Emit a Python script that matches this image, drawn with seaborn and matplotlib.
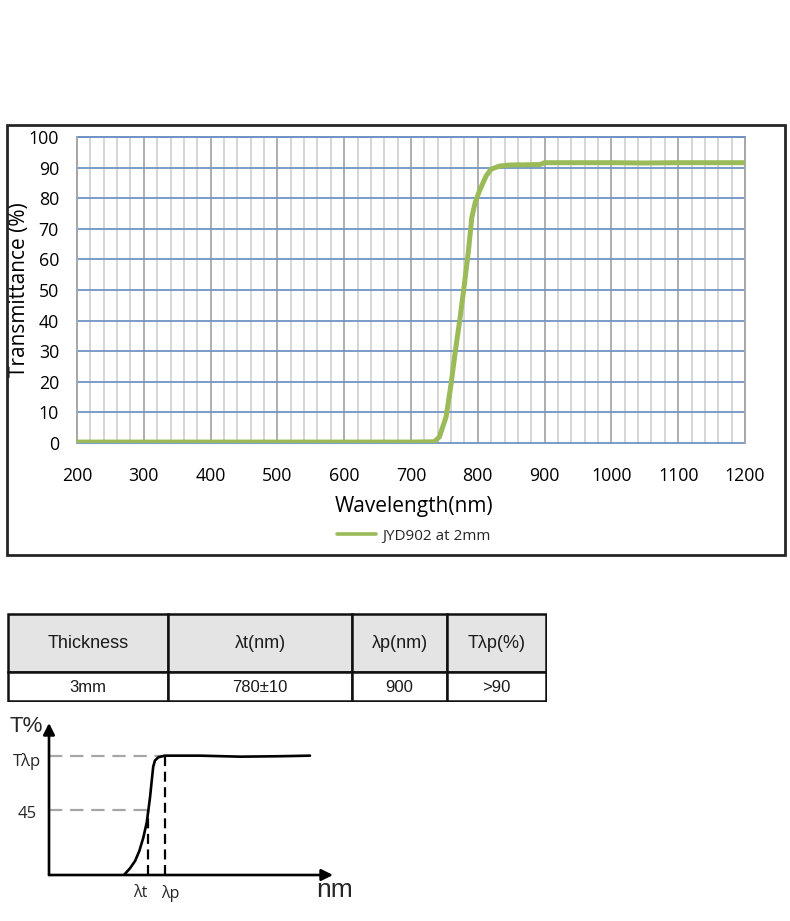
import numpy as np
import pandas as pd
import matplotlib
matplotlib.use("Agg")
import matplotlib.pyplot as plt
from matplotlib.patches import Rectangle
import seaborn as sns

# ---------------- data ----------------
wavelength = [200, 300, 400, 500, 600, 700, 735, 742.5, 752.5, 760, 766.5, 773.5,
              780, 786, 791, 796, 802.5, 812.5, 820, 832.5, 845, 857.5, 870, 887.5,
              893, 900, 922.5, 950, 1000, 1050, 1100, 1150, 1200]
transmittance = [0.3, 0.3, 0.3, 0.3, 0.3, 0.3, 0.4, 2.0, 8.5, 19.3, 30.2, 41.0,
                 52.0, 62.8, 73.7, 78.5, 82.4, 87.3, 89.5, 90.5, 90.8, 90.9, 90.9, 91.0,
                 91.0, 91.6, 91.6, 91.6, 91.6, 91.5, 91.6, 91.6, 91.6]
series_name = "JYD902 at 2mm"
x_ticks = list(range(200, 1201, 100))
y_ticks = list(range(0, 101, 10))

table_headers = ["Thickness", "λt(nm)", "λp(nm)", "Tλp(%)"]
table_values = ["3mm", "780±10", "900", ">90"]

# schematic curve (arbitrary units)
sch_x = [26.4, 28.5, 30.3, 31.8, 33.2, 34.4, 35.0, 35.6, 36.2, 36.7, 37.3, 38.5,
         40.8, 53.2, 67.3, 81.3, 91.9]
sch_t = [0.0, 4.6, 9.7, 16.6, 25.8, 36.2, 45.0, 54.2, 65.8, 75.0, 79.2, 81.5,
         82.6, 82.6, 81.9, 82.2, 82.6]
sch_lam_t = 34.8
sch_lam_p = 40.8
sch_t_lp = 82.6
sch_t_45 = 45.0

# ---------------- figure ----------------
sns.set_theme(style="white")
plt.rcParams["font.family"] = ["Open Sans", "DejaVu Sans"]

W, H = 790, 921
fig = plt.figure(figsize=(W / 100, H / 100), dpi=100)
fig.patch.set_facecolor("white")

def rect(x0, y0, x1, y1):
    return [x0 / W, 1 - y1 / H, (x1 - x0) / W, (y1 - y0) / H]

# outer frame of chart
fig.add_artist(Rectangle((7 / W, 1 - 555 / H), 778 / W, 430 / H,
                         transform=fig.transFigure, fill=False, lw=2.0, ec="#262626"))

# ---------------- main chart ----------------
ax = fig.add_axes(rect(77, 137, 745, 443))
df = pd.DataFrame({"Wavelength": wavelength, "T": transmittance})
sns.lineplot(data=df, x="Wavelength", y="T", ax=ax, color="#9BBB59", lw=3.6,
             label=series_name, zorder=5)
ax.set_xlim(200, 1200)
ax.set_ylim(0, 100)
ax.set_xticks(x_ticks)
ax.set_xticks(list(range(200, 1201, 20)), minor=True)
ax.set_yticks(y_ticks)
ax.grid(False)
ax.xaxis.grid(True, which="minor", color="#d2d2d2", lw=1.3, zorder=0)
ax.xaxis.grid(True, which="major", color="#a8a8a8", lw=1.3, zorder=1)
ax.yaxis.grid(True, which="major", color="#6f94c6", lw=1.3, zorder=0.5)
ax.set_axisbelow(True)
for t in ax.xaxis.get_major_ticks() + ax.xaxis.get_minor_ticks() + ax.yaxis.get_major_ticks():
    t.gridline.set_clip_on(False)
ax.axhline(100, color="#6f94c6", lw=1.3, clip_on=False, zorder=2)
ax.axvline(200, color="#a8a8a8", lw=1.3, clip_on=False, zorder=2)
ax.axvline(1200, color="#a8a8a8", lw=1.3, clip_on=False, zorder=1)
for s in ax.spines.values():
    s.set_visible(False)
ax.tick_params(axis="x", which="both", length=0, pad=17, labelsize=12.8, labelcolor="black")
ax.tick_params(axis="y", which="both", length=0, pad=13, labelsize=12.8, labelcolor="black")
ax.set_xlabel("Wavelength(nm)", fontsize=15, color="black")
ax.set_ylabel("Transmittance (%)", fontsize=15, color="black")
ax.xaxis.set_label_coords(0.504, -0.172)
ax.yaxis.set_label_coords(-0.07, 0.5)
leg = ax.legend(loc="center", bbox_to_anchor=(0.504, -0.304), frameon=False,
                handlelength=2.6, handletextpad=0.4, fontsize=11)
for line in leg.get_lines():
    line.set_linewidth(2.6)

# ---------------- table ----------------
tax = fig.add_axes(rect(7, 613, 547, 702))
tax.set_xlim(7, 547)
tax.set_ylim(702, 613)
tax.axis("off")
col_edges = [8, 168, 352, 447, 546]
row_edges = [614, 672, 701]
for i in range(len(table_headers)):
    x0, x1 = col_edges[i], col_edges[i + 1]
    tax.add_patch(Rectangle((x0, row_edges[0]), x1 - x0, row_edges[1] - row_edges[0],
                            fc="#e4e4e4", ec="#111111", lw=1.8))
    tax.add_patch(Rectangle((x0, row_edges[1]), x1 - x0, row_edges[2] - row_edges[1],
                            fc="white", ec="#111111", lw=1.8))
    cx = (x0 + x1) / 2
    tax.text(cx, (row_edges[0] + row_edges[1]) / 2, table_headers[i], ha="center",
             va="center", fontsize=13, family=["Liberation Sans", "DejaVu Sans"],
             color="#1a1a1a")
    tax.text(cx, (row_edges[1] + row_edges[2]) / 2 + 0.5, table_values[i], ha="center",
             va="center", fontsize=12, family=["Liberation Sans", "DejaVu Sans"],
             color="#1a1a1a")

# ---------------- schematic ----------------
sax = fig.add_axes(rect(49, 723, 333, 875))
sax.set_xlim(0, 100)
sax.set_ylim(0, 105.2)
sax.axis("off")
sns.lineplot(x=sch_x, y=sch_t, ax=sax, color="black", lw=1.9, sort=False)
sax.plot([0, sch_lam_p], [sch_t_lp, sch_t_lp], color="#a6a6a6", lw=1.6,
         dashes=(6, 3.5), zorder=1)
sax.plot([0, sch_lam_t], [sch_t_45, sch_t_45], color="#a6a6a6", lw=1.6,
         dashes=(6, 3.5), zorder=1)
sax.plot([sch_lam_t, sch_lam_t], [0, sch_t_45], color="black", lw=1.6,
         dashes=(4.5, 2.5), zorder=3)
sax.plot([sch_lam_p, sch_lam_p], [0, sch_t_lp], color="black", lw=1.6,
         dashes=(4.5, 2.5), zorder=3)
arrow = dict(arrowstyle="-|>", color="black", lw=1.9, mutation_scale=17,
             shrinkA=0, shrinkB=0)
sax.annotate("", xy=(0, 105.2), xytext=(0, 0), arrowprops=arrow, annotation_clip=False)
sax.annotate("", xy=(100, 0), xytext=(0, 0), arrowprops=arrow, annotation_clip=False)
sax.text(-8.0, 102.5, "T%", ha="center", va="center", fontsize=16,
         family=["Liberation Sans", "DejaVu Sans"], clip_on=False)
sax.text(-7.7, 78.3, "Tλp", ha="center", va="center", fontsize=12, clip_on=False)
sax.text(-7.7, 42.2, "45", ha="center", va="center", fontsize=12, clip_on=False)
sax.text(32.0, -12.5, "λt", ha="center", va="center", fontsize=11.5, clip_on=False)
sax.text(42.6, -12.5, "λp", ha="center", va="center", fontsize=11.5, clip_on=False)
sax.text(100.4, -10.4, "nm", ha="center", va="center", fontsize=19,
         family=["Liberation Sans", "DejaVu Sans"], clip_on=False)

fig.savefig("out.png", dpi=100, facecolor="white")
